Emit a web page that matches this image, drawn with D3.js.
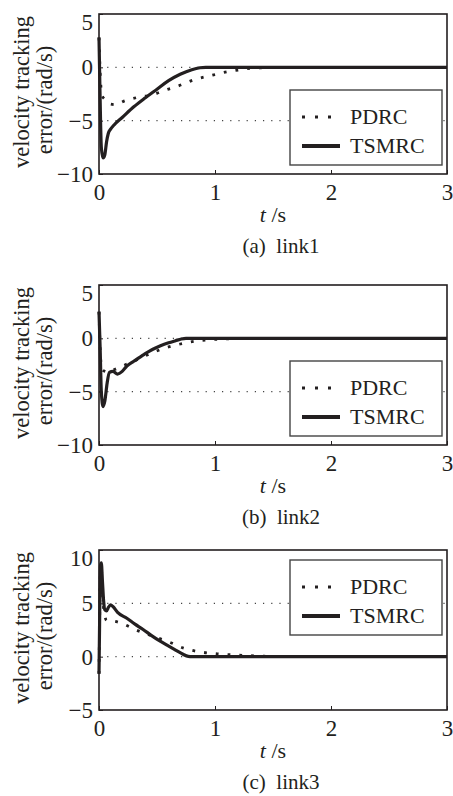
<!DOCTYPE html>
<html>
<head>
  <meta charset="utf-8" />
  <script src="https://d3js.org/d3.v7.min.js"></script>
  <style>
    body {
      margin: 0;
      background: #fff;
    }
    svg text {
      font-family: "Liberation Serif", "Times New Roman", serif;
      fill: #231f20;
    }
    .grid line {
      stroke: #444;
      stroke-width: 1.1;
      stroke-dasharray: 1.2 7;
    }
    .line {
      fill: none;
      stroke: #231f20;
      stroke-linejoin: round;
    }
  </style>
</head>
<body>
  <script>
    // [t (s), velocity tracking error (rad/s)]
    var link1Pdrc = [[0, 2.8], [0.01, -0.5], [0.025, -2.6], [0.05, -3.0], [0.1, -3.45], [0.14, -3.5], [0.22, -3.15],
      [0.32, -2.85], [0.47, -2.55], [0.58, -2.1], [0.67, -1.8], [0.81, -1.2], [0.99, -0.7], [1.1, -0.42],
      [1.2, -0.25], [1.3, -0.1], [1.45, -0.03], [1.6, 0], [3, 0]];
    var link1Tsmrc = [[0, 2.8], [0.008, -2], [0.02, -7.5], [0.035, -8.5], [0.05, -8.2], [0.065, -7], [0.08, -6.2],
      [0.1, -5.8], [0.13, -5.4], [0.2, -4.7], [0.3, -3.7], [0.4, -2.85], [0.5, -2.05], [0.6, -1.25],
      [0.7, -0.65], [0.8, -0.22], [0.87, -0.04], [0.92, 0], [3, 0]];

    var link2Pdrc = [[0, 2.5], [0.01, -1], [0.025, -2.9], [0.05, -3.1], [0.08, -3.2], [0.12, -3.0], [0.2, -2.6],
      [0.31, -2.1], [0.47, -1.3], [0.6, -0.8], [0.73, -0.47], [0.86, -0.22], [1.0, -0.1], [1.15, -0.04],
      [1.3, 0], [3, 0]];
    var link2Tsmrc = [[0, 2.5], [0.01, -1], [0.02, -5], [0.035, -6.4], [0.05, -5.9], [0.07, -4.2], [0.09, -3.2],
      [0.12, -3.1], [0.16, -3.35], [0.2, -3.1], [0.24, -2.6], [0.3, -2.15], [0.39, -1.5], [0.46, -1.05],
      [0.53, -0.7], [0.6, -0.42], [0.66, -0.22], [0.71, -0.06], [0.75, 0], [3, 0]];

    var link3Pdrc = [[0, -1.6], [0.005, 3], [0.012, 8], [0.02, 8.2], [0.035, 5], [0.066, 3.4], [0.14, 3.3],
      [0.21, 3.06], [0.32, 2.5], [0.45, 1.97], [0.61, 1.35], [0.73, 0.8], [0.87, 0.45], [1.04, 0.25],
      [1.19, 0.15], [1.4, 0.05], [1.6, 0], [3, 0]];
    var link3Tsmrc = [[0, -1.6], [0.005, 3], [0.012, 8.5], [0.02, 8.8], [0.03, 7], [0.04, 5.2], [0.05, 4.4],
      [0.065, 4.3], [0.08, 4.6], [0.1, 4.85], [0.12, 4.7], [0.16, 4.15], [0.24, 3.6], [0.31, 3.05],
      [0.38, 2.55], [0.45, 2.0], [0.52, 1.5], [0.59, 1.05], [0.66, 0.62], [0.72, 0.25], [0.77, 0.02],
      [0.8, 0], [3, 0]];

    var seriesNames = ["PDRC", "TSMRC"];
    var xTicks = [0, 1, 2, 3];
    var link1YTicks = [-10, -5, 0, 5];
    var link2YTicks = [-10, -5, 0, 5];
    var link3YTicks = [-5, 0, 5, 10];
    var captions = ["(a)  link1", "(b)  link2", "(c)  link3"];

    var panels = [
      { top: 14, yTicks: link1YTicks, series: [link1Pdrc, link1Tsmrc], legendAt: "bottom", caption: captions[0] },
      { top: 285, yTicks: link2YTicks, series: [link2Pdrc, link2Tsmrc], legendAt: "bottom", caption: captions[1] },
      { top: 550, yTicks: link3YTicks, series: [link3Pdrc, link3Tsmrc], legendAt: "top", caption: captions[2] }
    ];

    var left = 99;
    var width = 348;
    var height = 160;

    var svg = d3.select("body")
      .append("svg")
      .attr("width", 453)
      .attr("height", 796);

    var x = d3.scaleLinear().domain([0, 3]).range([0, width]);

    var line = d3.line()
      .curve(d3.curveMonotoneX)
      .x(function(d) { return x(d[0]); });

    panels.forEach(function(p) {
      var y = d3.scaleLinear()
        .domain(d3.extent(p.yTicks))
        .range([height, 0]);
      line.y(function(d) { return y(d[1]); });

      var g = svg.append("g")
        .attr("transform", `translate(${left} ${p.top})`);

      // dotted grid on the inner y ticks
      g.append("g")
        .attr("class", "grid")
        .selectAll("line")
        .data(p.yTicks.slice(1, -1))
        .enter()
        .append("line")
        .attr("x1", 0)
        .attr("x2", width)
        .attr("y1", function(d) { return y(d); })
        .attr("y2", function(d) { return y(d); });

      g.append("path")
        .attr("class", "line")
        .attr("d", line(p.series[0]))
        .style("stroke-width", 2.8)
        .style("stroke-dasharray", "2.8 9");

      g.append("path")
        .attr("class", "line")
        .attr("d", line(p.series[1]))
        .style("stroke-width", 3.2);

      var xAxis = d3.axisBottom(x)
        .tickValues(xTicks)
        .tickSizeInner(-4)
        .tickSizeOuter(0)
        .tickPadding(10)
        .tickFormat(d3.format("d"));
      var gx = g.append("g")
        .attr("transform", `translate(0 ${height})`)
        .call(xAxis);
      gx.select(".domain").remove();

      var yAxis = d3.axisLeft(y)
        .tickValues(p.yTicks)
        .tickSizeInner(-4)
        .tickSizeOuter(0)
        .tickPadding(6)
        .tickFormat(function(d) { return d < 0 ? "\u2212" + Math.abs(d) : d; });
      var gy = g.append("g").call(yAxis);
      gy.select(".domain").remove();
      gy.selectAll(".tick text")
        .attr("dy", function(d) { return d === p.yTicks[p.yTicks.length - 1] ? "0.68em" : "0.32em"; });

      g.selectAll(".tick line").attr("stroke", "#231f20");
      g.selectAll(".tick text")
        .attr("fill", "#231f20")
        .style("font-size", "23px");

      // frame
      g.append("rect")
        .attr("width", width)
        .attr("height", height)
        .attr("fill", "none")
        .attr("stroke", "#231f20")
        .attr("stroke-width", 1.6);

      // legend
      var lw = 152, lh = 75;
      var lx = width - 5 - lw;
      var ly = p.legendAt === "bottom" ? height - 9 - lh : 10;
      var lg = g.append("g").attr("transform", `translate(${lx} ${ly})`);
      lg.append("rect")
        .attr("width", lw)
        .attr("height", lh)
        .attr("fill", "#fff")
        .attr("stroke", "#444")
        .attr("stroke-width", 1.4);
      var item = lg.selectAll(".item")
        .data(seriesNames)
        .enter()
        .append("g")
        .attr("transform", function(d, i) { return `translate(0 ${27 + i * 29})`; });
      item.append("line")
        .attr("x1", 12)
        .attr("x2", 50)
        .attr("stroke", "#231f20")
        .attr("stroke-width", function(d, i) { return i === 0 ? 3 : 4; })
        .attr("stroke-dasharray", function(d, i) { return i === 0 ? "3 10" : null; });
      item.append("text")
        .attr("x", 60)
        .attr("dy", "0.34em")
        .style("font-size", "22px")
        .text(function(d) { return d; });

      // axis titles
      var title = g.append("text")
        .attr("transform", `translate(${-left} ${height / 2 - 2}) rotate(-90)`)
        .attr("text-anchor", "middle")
        .style("font-size", "22.5px");
      title.append("tspan").attr("x", 0).attr("y", 29).text("velocity tracking");
      title.append("tspan").attr("x", -8).attr("y", 52).text("error/(rad/s)");

      var xt = g.append("text")
        .attr("x", width / 2)
        .attr("y", height + 48)
        .attr("text-anchor", "middle")
        .style("font-size", "22px");
      xt.append("tspan").style("font-style", "italic").text("t");
      xt.append("tspan").text(" /s");

      g.append("text")
        .attr("x", width / 2 + 8)
        .attr("y", height + 79)
        .attr("text-anchor", "middle")
        .style("font-size", "21px")
        .style("white-space", "pre")
        .text(p.caption);
    });
  </script>
</body>
</html>
